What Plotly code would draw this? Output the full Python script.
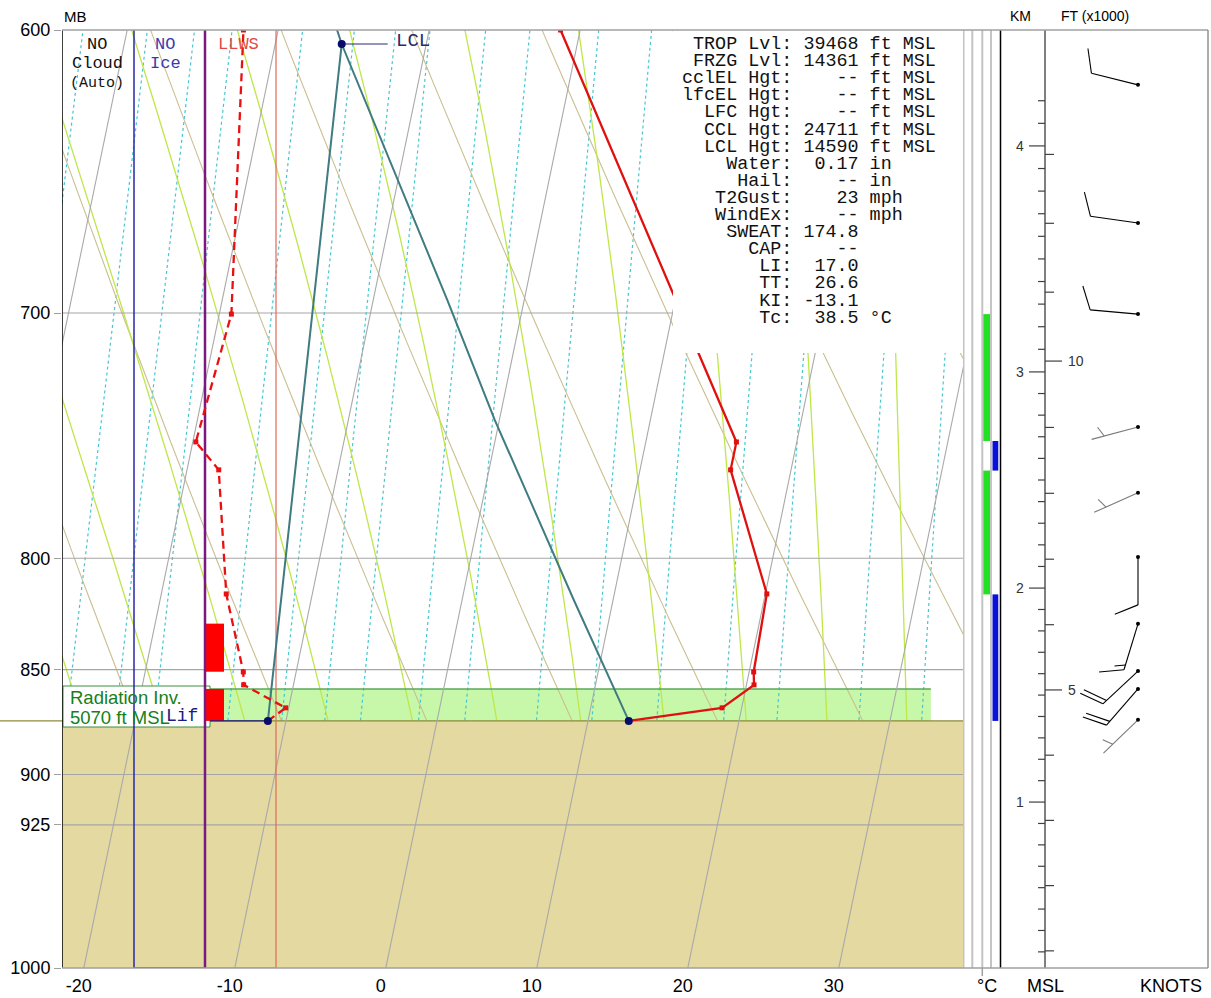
import numpy as np
import plotly.graph_objects as go

# ===================== DATA =====================
PRESSURE_TICKS = [600, 700, 800, 850, 900, 925, 1000]
TEMP_TICKS = [-20, -10, 0, 10, 20, 30]

TEMP_P = [874.1, 867.9, 857.1, 851.1, 815.7, 762.4, 750.9, 600.0]
TEMP_C = [12.7, 18.7, 20.5, 20.3, 20.1, 16.0, 16.0, -1.3]

DEWP_P = [874.1, 867.9, 857.1, 851.1, 815.7, 762.4, 750.9, 700.4, 600.0]
DEWP_C = [-11.2, -10.2, -13.3, -13.5, -15.7, -17.9, -19.8, -19.2, -22.3]

PARCEL_P = [874.1, 818.4, 742.0, 695.0, 604.6, 600.0]
PARCEL_C = [12.7, 7.4, -0.3, -5.1, -15.6, -16.1]

MIXLINE_P = [874.1, 604.6]
MIXLINE_C = [-11.2, -15.6]

SURFACE_P = 874.1
LCL_P, LCL_C = 604.6, -15.6
INVERSION_TOP_P = 859.0
INVERSION_RIGHT_C = 36.1

LLWS_LAYERS_P = [(829.0, 851.0), (859.0, 874.1)]
GREEN_LAYERS_P = [(700.4, 750.5), (762.7, 815.9)]
BLUE_LAYERS_P = [(750.5, 762.7), (815.9, 874.1)]

WIND_P = [618.2, 666.5, 700.4, 744.8, 772.0, 799.4, 829.1, 850.7, 859.0, 873.6]
WIND_DIR = [284, 278, 275, 255, 246, 180, 197, 227, 221, 226]
WIND_KT = [10, 10, 10, 5, 5, 10, 15, 20, 20, 5]

HEIGHT_KM = [1, 2, 3, 4]
HEIGHT_P = [913.6, 813.1, 722.8, 639.1]
KM_TICKS = [round(0.3 + 0.1 * i, 1) for i in range(40)]   # 0.3 .. 4.2 km
KM_LABELS = [1, 2, 3, 4]
KFT_TICKS = list(range(1, 14))
KFT_LABELS = [5, 10]

ISOTHERMS = list(range(-60, 50, 10))
DRY_THETA = list(range(-30, 120, 10))
MOIST_THETAW = list(range(-25, 45, 5))
MIX_RATIOS = [0.4, 0.6, 0.8, 1, 1.5, 2, 2.5, 3, 4, 5, 7, 9, 12, 16, 20, 28, 36]

STAT_LABELS = ["TROP Lvl", "FRZG Lvl", "cclEL Hgt", "lfcEL Hgt", "LFC Hgt", "CCL Hgt",
               "LCL Hgt", "Water", "Hail", "T2Gust", "WindEx", "SWEAT", "CAP", "LI",
               "TT", "KI", "Tc"]
STAT_VALUES = ["39468", "14361", "--", "--", "--", "24711", "14590", "0.17", "--", "23",
               "--", "174.8", "--", "17.0", "26.6", "-13.1", "38.5"]
STAT_UNITS = ["ft MSL"] * 7 + ["in", "in", "mph", "mph", "", "", "", "", "", "°C"]

# ===================== LAYOUT CONSTANTS =====================
W, H = 1211, 998
PX_L, PX_R, PX_T, PX_B = 62, 963, 30, 968
SIDE_R = 1208
ZERO_PX, PX_PER_C, SKEW = 385.8, 15.1, 25.2
XMIN = (PX_L - ZERO_PX) / PX_PER_C
XMAX = (PX_R - ZERO_PX) / PX_PER_C
PMIN, PMAX = 600.0, 1000.0
KY = (np.log10(PMAX) - np.log10(PMIN)) / (PX_B - PX_T)
MONO = "Liberation Mono, Courier New, monospace"
SANS = "Arial, Liberation Sans, sans-serif"


def Y(p):
    return np.log10(np.asarray(p, dtype=float))


def SX(t, p):
    return np.asarray(t, dtype=float) + SKEW * np.log(1000.0 / np.asarray(p, dtype=float))


def xcol(px):  # pixel column -> main x value
    return (px - ZERO_PX) / PX_PER_C


def prow(py):  # pixel row -> pressure
    return 10 ** (np.log10(PMIN) + (py - PX_T) * KY)


def h2p(h):
    hk = np.array(HEIGHT_KM, float)
    lp = np.log(np.array(HEIGHT_P, float))
    i = 0 if h <= hk[1] else (1 if h <= hk[2] else 2)
    return float(np.exp(lp[i] + (lp[i + 1] - lp[i]) * (h - hk[i]) / (hk[i + 1] - hk[i])))


fig = go.Figure()


def add_lines(curves, color, width, dash="solid", xaxis="x"):
    xs, ys = [], []
    for xv, yv in curves:
        xs += [float(v) for v in xv] + [None]
        ys += [float(v) for v in yv] + [None]
    fig.add_trace(go.Scatter(x=xs, y=ys, mode="lines", xaxis=xaxis, yaxis="y",
                             line=dict(color=color, width=width, dash=dash),
                             hoverinfo="skip", showlegend=False))


plev = np.linspace(1015, 585, 120)

# ---- mixing ratio lines ----
curves = []
for r in MIX_RATIOS:
    es = r * plev / (622.0 + r)
    lnr = np.log(es / 6.112)
    td = 243.5 * lnr / (17.67 - lnr)
    curves.append((SX(td, plev), Y(plev)))
add_lines(curves, "#45c6d2", 1.2, "3px,3px")

# ---- dry adiabats ----
curves = []
for th in DRY_THETA:
    t = (th + 273.15) * (plev / 1000.0) ** 0.2857 - 273.15
    curves.append((SX(t, plev), Y(plev)))
add_lines(curves, "#cbbf90", 1.1)


# ---- moist adiabats ----
def dtdlnp(tk, p):
    tc = tk - 273.15
    es = 6.112 * np.exp(17.67 * tc / (tc + 243.5))
    rs = 0.622 * es / (p - es)
    return (287.04 * tk + 2.501e6 * rs) / (1005.7 + 2.501e6 ** 2 * rs * 0.622 / (287.04 * tk * tk))


def moist(tw):
    ps = [1000.0]
    ts = [tw + 273.15]
    p, t = 1000.0, tw + 273.15
    while p > 586:
        pn = p - 2.5
        dl = np.log(pn / p)
        k1 = dtdlnp(t, p)
        k2 = dtdlnp(t + 0.5 * dl * k1, p * np.exp(dl / 2))
        t = t + dl * k2
        p = pn
        ps.append(p)
        ts.append(t)
    dl = np.log(1015.0 / 1000.0)
    t0 = tw + 273.15 + dl * dtdlnp(tw + 273.15, 1000.0)
    ps = [1015.0] + ps
    ts = [t0] + ts
    return np.array(ts) - 273.15, np.array(ps)


curves = []
for tw in MOIST_THETAW:
    t, p = moist(tw)
    curves.append((SX(t, p), Y(p)))
add_lines(curves, "#bfe64a", 1.3)

# ---- inversion band top line ----
add_lines([([XMIN, INVERSION_RIGHT_C], Y([INVERSION_TOP_P] * 2))], "#5aa85a", 1.5)

# ---- ground ----
fig.add_trace(go.Scatter(x=[XMIN - 1, XMAX + 1, XMAX + 1, XMIN - 1, XMIN - 1],
                         y=list(Y([SURFACE_P, SURFACE_P, 1020, 1020, SURFACE_P])),
                         fill="toself", fillcolor="#e3d9a1", mode="lines",
                         line=dict(width=0, color="#e3d9a1"), hoverinfo="skip", showlegend=False))
add_lines([([XMIN, XMAX], Y([SURFACE_P] * 2))], "#8c8a3a", 1.2)

# ---- isotherms ----
curves = []
for t in ISOTHERMS:
    curves.append((SX([t, t], [1020, 585]), Y([1020, 585])))
add_lines(curves, "#a9a9a9", 1.1)

# ---- pressure lines ----
curves = [([XMIN, XMAX], Y([p, p])) for p in PRESSURE_TICKS[1:-1]]
add_lines(curves, "#a6a6a6", 1.1)

# ---- radiation inversion label box ----
bx0, bx1 = xcol(63), xcol(210)
bp0, bp1 = prow(686), prow(727)
fig.add_trace(go.Scatter(x=[bx0, bx1, bx1, bx0, bx0], y=list(Y([bp0, bp0, bp1, bp1, bp0])),
                         fill="toself", fillcolor="white", mode="lines",
                         line=dict(color="#3c8f3c", width=1), hoverinfo="skip", showlegend=False))

# ---- column guides (cloud / ice / LLWS) ----
cb, cp, cr = xcol(134), xcol(205), xcol(276)
add_lines([([cb, cb, cp], Y([PMIN, PMAX, PMAX]))], "#2828a8", 1.5)
add_lines([([cp, cr, cr], Y([PMAX, PMAX, PMIN]))], "#e06a5a", 1.2)
for (pt, pb) in LLWS_LAYERS_P:
    xa, xb = cp, xcol(224)
    fig.add_trace(go.Scatter(x=[xa, xb, xb, xa, xa], y=list(Y([pt, pt, pb, pb, pt])),
                             fill="toself", fillcolor="#ff0000", mode="lines",
                             line=dict(width=0, color="#ff0000"), hoverinfo="skip", showlegend=False))
add_lines([([cp, cp], Y([PMIN, PMAX]))], "#7a1a80", 2.5)
add_lines([([XMIN, XMIN], Y([PMIN, PMAX]))], "#000000", 1.5)

# ---- parcel ----
fig.add_trace(go.Scatter(x=SX(PARCEL_C, PARCEL_P), y=Y(PARCEL_P), mode="lines",
                         line=dict(color="#3f7b80", width=2), hoverinfo="skip", showlegend=False))
fig.add_trace(go.Scatter(x=SX(MIXLINE_C, MIXLINE_P), y=Y(MIXLINE_P), mode="lines",
                         line=dict(color="#3f7b80", width=2), hoverinfo="skip", showlegend=False))

# ---- dewpoint & temperature ----
fig.add_trace(go.Scatter(x=SX(DEWP_C, DEWP_P), y=Y(DEWP_P), mode="lines+markers",
                         line=dict(color="#e81010", width=2.3, dash="8px,5px"),
                         marker=dict(symbol="square", size=5, color="#e81010"),
                         hoverinfo="skip", showlegend=False))
fig.add_trace(go.Scatter(x=SX(TEMP_C, TEMP_P), y=Y(TEMP_P), mode="lines+markers",
                         line=dict(color="#e01010", width=2.3),
                         marker=dict(symbol="square", size=5, color="#e01010"),
                         hoverinfo="skip", showlegend=False))

# ---- LCL / lifted labels ----
lx = float(SX(LCL_C, LCL_P))
add_lines([([lx, lx + 46 / PX_PER_C], Y([LCL_P, LCL_P]))], "#2a2a6a", 1.2)
sdx = float(SX(DEWP_C[0], DEWP_P[0]))
add_lines([([xcol(210), sdx], Y([SURFACE_P, SURFACE_P]))], "#1a1a80", 1.2)
fig.add_trace(go.Scatter(x=[lx, sdx, float(SX(TEMP_C[0], TEMP_P[0]))],
                         y=list(Y([LCL_P, SURFACE_P, SURFACE_P])), mode="markers",
                         marker=dict(size=8, color="#0a0a6a"), hoverinfo="skip", showlegend=False))

# ===================== SIDE PANEL (x2) =====================
S = lambda px: px - PX_R
col_lines = [([S(963.5), S(963.5)], Y([PMIN, PMAX])), ([S(972.3), S(972.3)], Y([PMIN, PMAX])),
             ([S(982.3), S(982.3)], Y([PMIN, PMAX])), ([S(991), S(991)], Y([PMIN, PMAX]))]
add_lines(col_lines, "#c4c4c4", 2, xaxis="x2")
add_lines([([S(1000.5), S(1000.5)], Y([PMIN, PMAX]))], "#000000", 1.5, xaxis="x2")
add_lines([([S(1045), S(1045)], Y([PMIN, PMAX]))], "#555555", 1.5, xaxis="x2")

# height ticks
curves = []
for h in KM_TICKS:
    if h > 4.25:
        continue
    yy = Y([h2p(h)] * 2)
    x0 = S(1029) if abs(h - round(h)) < 1e-6 and round(h) in KM_LABELS else S(1038)
    curves.append(([x0, S(1045)], yy))
for k in KFT_TICKS:
    yy = Y([h2p(k * 0.3048)] * 2)
    x1 = S(1062) if k in KFT_LABELS else S(1054)
    curves.append(([S(1045), x1], yy))
add_lines(curves, "#404040", 1.2, xaxis="x2")

# wind barbs
BARB_X = S(1138)
STAFF, FULL, HALF, STEP, ANG = 48.0, 25.0, 11.0, 5.0, np.radians(68)


def barb(direction, speed):
    a = np.radians(direction)
    d = np.array([np.sin(a), -np.cos(a)])
    b = np.array([d[0] * np.cos(ANG) - d[1] * np.sin(ANG), d[0] * np.sin(ANG) + d[1] * np.cos(ANG)])
    segs = [(np.zeros(2), STAFF * d)]
    nfull = speed // 10
    half = (speed % 10) >= 5
    pos = STAFF if nfull > 0 else STAFF - 13
    for _ in range(nfull):
        segs.append((pos * d, pos * d + FULL * b))
        pos -= STEP
    if half:
        segs.append((pos * d, pos * d + HALF * b))
    return segs


blk = ([], [])
gry = ([], [])
for p, dr, sp in zip(WIND_P, WIND_DIR, WIND_KT):
    tgt = gry if sp < 10 else blk
    for s0, s1 in barb(dr, sp):
        tgt[0].extend([BARB_X + s0[0], BARB_X + s1[0], None])
        tgt[1].extend([float(np.log10(p) + s0[1] * KY), float(np.log10(p) + s1[1] * KY), None])
for (xs, ys), c in ((blk, "#000000"), (gry, "#7a7a7a")):
    fig.add_trace(go.Scatter(x=xs, y=ys, mode="lines", xaxis="x2", yaxis="y",
                             line=dict(color=c, width=1.1), hoverinfo="skip", showlegend=False))
fig.add_trace(go.Scatter(x=[BARB_X] * len(WIND_P), y=list(Y(WIND_P)), mode="markers",
                         xaxis="x2", yaxis="y", marker=dict(size=4, color="#000000"),
                         hoverinfo="skip", showlegend=False))

# ===================== SHAPES =====================
shapes = []
shapes.append(dict(type="rect", xref="x", yref="y", x0=XMIN, x1=INVERSION_RIGHT_C,
                   y0=float(Y(INVERSION_TOP_P)), y1=float(Y(SURFACE_P)),
                   fillcolor="#c7f8aa", line=dict(width=0), layer="below"))
for (pt, pb) in GREEN_LAYERS_P:
    shapes.append(dict(type="rect", xref="x2", yref="y", x0=S(983.3), x1=S(990),
                       y0=float(Y(pt)), y1=float(Y(pb)), fillcolor="#22e022", line=dict(width=0)))
for (pt, pb) in BLUE_LAYERS_P:
    shapes.append(dict(type="rect", xref="x2", yref="y", x0=S(992.5), x1=S(998.3),
                       y0=float(Y(pt)), y1=float(Y(pb)), fillcolor="#0a10d8", line=dict(width=0)))
# stats box
shapes.append(dict(type="rect", xref="paper", yref="paper", x0=673 / W, x1=PX_R / W,
                   y0=1 - 353 / H, y1=1 - PX_T / H, fillcolor="white", line=dict(width=0), layer="above"))
# surface line into left margin
shapes.append(dict(type="line", xref="paper", yref="y", x0=0, x1=PX_L / W,
                   y0=float(Y(SURFACE_P)), y1=float(Y(SURFACE_P)), line=dict(color="#8c8a3a", width=1.2)))
# small tick under the deg C column
shapes.append(dict(type="line", xref="paper", yref="paper", x0=982.3 / W, x1=982.3 / W,
                   y0=1 - 976 / H, y1=1 - PX_B / H, line=dict(color="#a0a0a0", width=1.5)))
# frame
shapes.append(dict(type="line", xref="paper", yref="paper", x0=PX_L / W, x1=SIDE_R / W,
                   y0=1 - PX_T / H, y1=1 - PX_T / H, line=dict(color="#a0a0a0", width=1.5)))
shapes.append(dict(type="line", xref="paper", yref="paper", x0=PX_L / W, x1=SIDE_R / W,
                   y0=1 - PX_B / H, y1=1 - PX_B / H, line=dict(color="#a0a0a0", width=1.5)))
shapes.append(dict(type="line", xref="paper", yref="paper", x0=SIDE_R / W, x1=SIDE_R / W,
                   y0=1 - PX_B / H, y1=1 - PX_T / H, line=dict(color="#909090", width=1.5)))

# ===================== ANNOTATIONS =====================
ann = []


def text(t, xpx, ypx, size, color="black", family=SANS, xanchor="center"):
    ann.append(dict(text=t, x=xpx / W, y=1 - ypx / H, xref="paper", yref="paper",
                    xanchor=xanchor, yanchor="middle", showarrow=False,
                    font=dict(family=family, size=size, color=color)))


text("MB", 62, 16, 15, xanchor="left")
text("KM", 1020, 16, 14)
text("FT (x1000)", 1059, 16, 14, xanchor="left")
text("°C", 987, 986, 18)
text("MSL", 1045, 986, 18)
text("KNOTS", 1171, 986, 18)

text("NO", 97, 44, 17, "#111111", MONO)
text("Cloud", 97, 64, 17, "#111111", MONO)
text("(Auto)", 97, 83, 15, "#111111", MONO)
text("NO", 165, 44, 17, "#3a3ab0", MONO)
text("Ice", 165, 64, 17, "#3a3ab0", MONO)
text("LLWS", 238, 44, 17, "#e04848", MONO)
text("LCL", 394, 41, 19, "#2a2a6a", MONO, xanchor="left")

text("Radiation Inv.", 68, 697, 18.5, "#16801a", xanchor="left")
text("5070 ft MSL", 68, 717, 18.5, "#16801a", xanchor="left")
text("Lif", 164, 716, 18, "#1a1a80", MONO, xanchor="left")

for i, (lab, val, unit) in enumerate(zip(STAT_LABELS, STAT_VALUES, STAT_UNITS)):
    line = f"{lab + ':':>10} {val:>5} {unit}".rstrip().replace(" ", "\u00a0")
    text(line, 680, 44.5 + i * 17.1, 18.4, "#111111", MONO, xanchor="left")

for k in KM_LABELS:
    py = PX_T + (np.log10(h2p(k)) - np.log10(PMIN)) / KY
    text(str(k), 1026, py, 14, "#333333", xanchor="right")
for k in KFT_LABELS:
    py = PX_T + (np.log10(h2p(k * 0.3048)) - np.log10(PMIN)) / KY
    text(str(k), 1066, py, 14, "#333333", xanchor="left")

fig.update_layout(
    template="none",
    width=W, height=H, autosize=False,
    margin=dict(l=0, r=0, t=0, b=0, pad=0, autoexpand=False),
    paper_bgcolor="white", plot_bgcolor="white", showlegend=False,
    xaxis=dict(domain=[PX_L / W, PX_R / W], range=[XMIN, XMAX], anchor="y", automargin=False,
               tickvals=TEMP_TICKS, ticktext=[str(t) for t in TEMP_TICKS], ticks="",
               showgrid=False, zeroline=False, showline=False, ticklabelshift=-5,
               ticklabelstandoff=5,
               tickfont=dict(family=SANS, size=18, color="black"), fixedrange=True),
    yaxis=dict(domain=[1 - PX_B / H, 1 - PX_T / H], range=[float(np.log10(PMAX)), float(np.log10(PMIN))],
               tickvals=[float(v) for v in Y(PRESSURE_TICKS)], ticktext=[str(p) for p in PRESSURE_TICKS],
               ticks="outside", ticklen=7, tickcolor="#a0a0a0", showgrid=False, zeroline=False,
               showline=False, tickfont=dict(family=SANS, size=18, color="black"), anchor="x",
               automargin=False, fixedrange=True),
    xaxis2=dict(domain=[PX_R / W, SIDE_R / W], range=[0, SIDE_R - PX_R], anchor="y",
                visible=False, automargin=False, fixedrange=True),
    shapes=shapes, annotations=ann,
)

fig.write_html("out.html", config={"displayModeBar": False},
               post_script="document.body.style.margin='0';document.body.style.overflow='hidden';")
